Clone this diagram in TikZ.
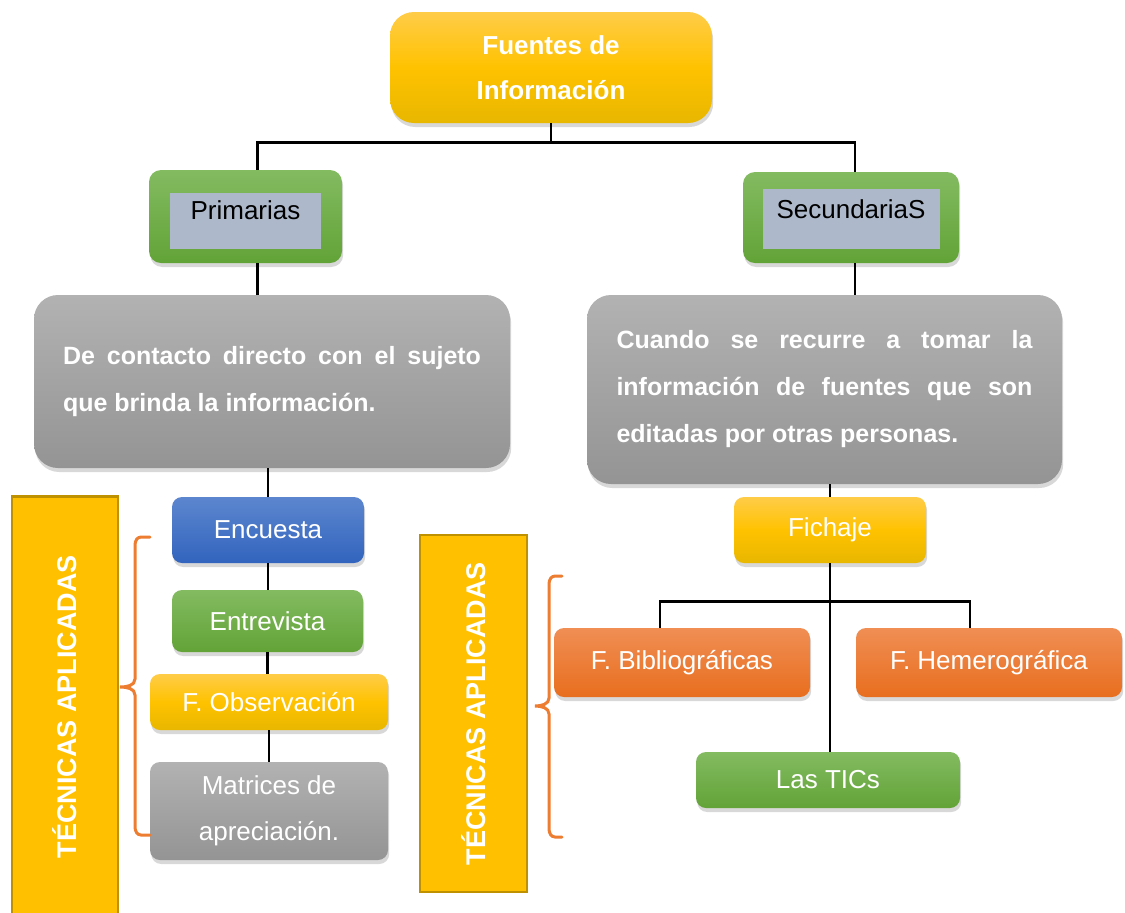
\documentclass[tikz,border=0pt]{standalone}
\usepackage{fontspec}
\setmainfont{Liberation Sans}
\usetikzlibrary{positioning,calc,shadows}
\definecolor{GoldTop}{RGB}{255,204,72}
\definecolor{GoldMid}{RGB}{255,194,0}
\definecolor{GoldBot}{RGB}{232,183,0}
\definecolor{LeafTop}{RGB}{131,187,97}
\definecolor{LeafBot}{RGB}{98,163,55}
\definecolor{SkyTop}{RGB}{92,134,206}
\definecolor{SkyBot}{RGB}{50,100,190}
\definecolor{RustTop}{RGB}{240,142,84}
\definecolor{RustBot}{RGB}{232,110,30}
\definecolor{AshTop}{RGB}{178,178,178}
\definecolor{AshBot}{RGB}{148,148,148}
\definecolor{SlateFill}{RGB}{173,185,202}
\definecolor{TabFill}{RGB}{255,192,0}
\definecolor{TabEdge}{RGB}{191,144,0}
\definecolor{BraceOrange}{RGB}{237,125,49}
\hyphenpenalty=10000
\tikzset{
  link/.style={line width=1.2pt,draw=black},
  bracket/.style={line width=1.5pt,draw=BraceOrange,line cap=round},
  card/.style={rounded corners=5pt,inner sep=0pt,align=center,text=white,
    font=\fontsize{13}{15.6}\selectfont,
    drop shadow={shadow xshift=0.6pt,shadow yshift=-2pt,opacity=0.3}},
  goldbox/.style={card,top color=GoldTop,bottom color=GoldBot,middle color=GoldMid},
  leafbox/.style={card,top color=LeafTop,bottom color=LeafBot},
  skybox/.style={card,top color=SkyTop,bottom color=SkyBot},
  rustbox/.style={card,top color=RustTop,bottom color=RustBot},
  ashbox/.style={card,top color=AshTop,bottom color=AshBot},
  bigash/.style={ashbox,rounded corners=12pt,align=justify,inner ysep=0pt,
    font=\bfseries\fontsize{12.5}{23.5}\selectfont},
  slatebox/.style={fill=SlateFill,inner xsep=0pt,inner ysep=2.5pt,
    font=\fontsize{13}{15.6}\selectfont,text=black},
  tabbox/.style={draw=TabEdge,line width=1.2pt,fill=TabFill,text=white,
    font=\bfseries\fontsize{13.5}{16}\selectfont,rotate=90,inner sep=0pt}
}
\begin{document}
\begin{tikzpicture}[x=0.5pt,y=-0.5pt]
  \useasboundingbox[fill=white] (0,0) rectangle (1125,912);
  % top level
  \node[goldbox,rounded corners=12pt,minimum width=161pt,minimum height=55.5pt,
    font=\bfseries\fontsize{13}{22.5}\selectfont] (fuentes) at (551,67.5) {Fuentes de\\Información};
  \node[leafbox,rounded corners=6pt,minimum width=96.5pt,minimum height=46.5pt] (prim) at (245.5,216.5) {};
  \node[slatebox,minimum width=75.5pt,text height=10.5pt,text depth=12.5pt] (primin) at (245.5,221) {Primarias};
  \node[leafbox,rounded corners=6pt,minimum width=108pt,minimum height=45.5pt] (sec) at (851,217.5) {};
  \node[slatebox,minimum width=88.5pt,text height=12pt,text depth=13pt] (secin) at (851,219) {SecundariaS};
  \draw[link] (fuentes.south) -- ++(0,19) coordinate (topbus);
  \draw[link] ([xshift=6pt]prim.north) |- (topbus) -| ([xshift=2pt]sec.north);
  % descriptions
  \node[bigash,minimum width=238pt,minimum height=86.5pt,text width=209pt,inner xsep=14.5pt] (lgray) at (272,381.5)
    {De contacto directo con el sujeto que brinda la información.};
  \node[bigash,minimum width=237.5pt,minimum height=94.5pt,text width=208pt,inner xsep=14.75pt] (rgray) at (824.5,389.5)
    {Cuando se recurre a tomar la información de fuentes que son editadas por otras personas.};
  \draw[link] ([xshift=6pt]prim.south) -- ([xshift=6pt]prim.south |- lgray.north);
  \draw[link] ([xshift=2pt]sec.south) -- ([xshift=2pt]sec.south |- rgray.north);
  % primary techniques
  \node[skybox,minimum width=96pt,minimum height=33pt] (enc) at (268,530) {Encuesta};
  \node[leafbox,minimum width=95.5pt,minimum height=31pt] (entr) at (267.5,621) {Entrevista};
  \node[goldbox,minimum width=119pt,minimum height=28pt] (obs) at (269,702) {F. Observación};
  \node[ashbox,minimum width=119pt,minimum height=49pt,font=\fontsize{13}{23}\selectfont] (matr) at (269,811) {Matrices de\\apreciación.};
  \draw[link] (enc.north |- lgray.south) -- (enc.north);
  \draw[link] (enc.south) -- (enc.south |- entr.north);
  \draw[link] (entr.south) -- (entr.south |- obs.north);
  \draw[link] (obs.south) -- (obs.south |- matr.north);
  % secondary techniques
  \node[goldbox,minimum width=96pt,minimum height=33pt] (fich) at (830,530) {Fichaje};
  \node[rustbox,minimum width=128pt,minimum height=34.5pt] (bibl) at (682,662.5) {F. Bibliográficas};
  \node[rustbox,minimum width=133pt,minimum height=34.5pt] (hemer) at (989,662.5) {F. Hemerográfica};
  \node[leafbox,minimum width=132pt,minimum height=28pt] (tics) at (828,780) {Las TICs};
  \draw[link] (fich.north |- rgray.south) -- (fich.north);
  \draw[link] (fich.south) -- (fich.south |- tics.north);
  \coordinate (fichbus) at ($(fich.south)+(0,38)$);
  \draw[link] ([xshift=-11pt]bibl.north) |- (fichbus) -| ([xshift=-9.5pt]hemer.north);
  % side tabs and braces
  \node[tabbox,minimum width=210pt,minimum height=53pt] (tecl) at (65,706.5) {TÉCNICAS APLICADAS};
  \node[tabbox,minimum width=178.5pt,minimum height=53.5pt] (tecr) at (473.5,713.5) {TÉCNICAS APLICADAS};
  \draw[bracket] (150,537) -- (141,537) to[out=180,in=90] (135,545) -- (135,679)
    to[out=270,in=0] (120,687) to[out=0,in=90] (135,695) -- (135,827)
    to[out=270,in=180] (141,835) -- (150,835);
  \draw[bracket] (562,576) -- (555,576) to[out=180,in=90] (549,584) -- (549,698)
    to[out=270,in=0] (535,706) to[out=0,in=90] (549,714) -- (549,829)
    to[out=270,in=180] (555,837) -- (562,837);
\end{tikzpicture}
\end{document}
